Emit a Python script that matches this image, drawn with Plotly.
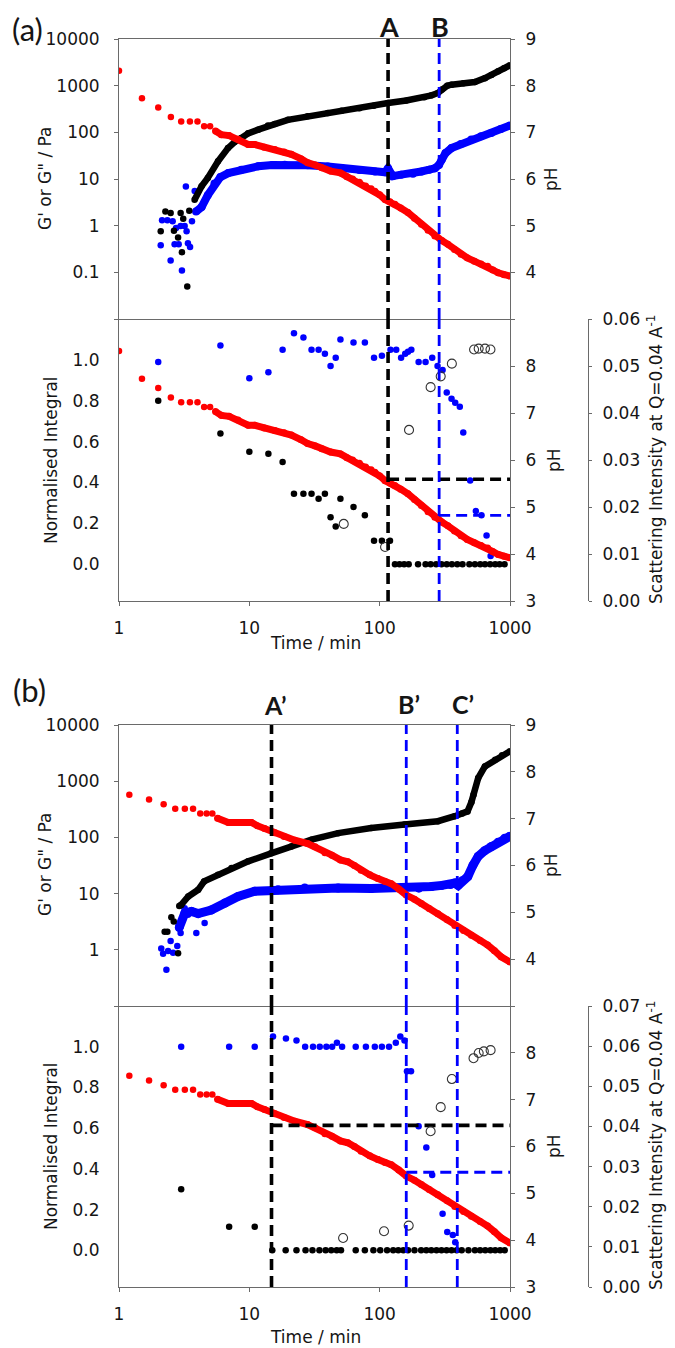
import plotly.graph_objects as go

W, H = 675, 1348

# ---------------- DATA: panel (a) ----------------
# pH (red), shared by upper and lower plots
a_ph_t_sparse = [1.0, 1.5, 2.0, 2.5, 3.0, 3.5, 4.0, 4.5, 5.0]
a_ph_sparse = [8.32, 7.73, 7.53, 7.33, 7.23, 7.23, 7.23, 7.13, 7.13]
a_ph_t = [5.5, 6.1, 7.0, 8.2, 9.8, 11, 13, 15.7, 18.5, 21, 25, 28, 32, 36, 42, 50, 56, 62, 70,
          78, 86, 92, 100, 110, 120, 131, 145, 165, 185, 209, 235, 265, 300, 334, 375, 421, 470,
          533, 600, 674, 740, 812, 900, 1000]
a_ph = [7.03, 6.95, 6.93, 6.85, 6.74, 6.74, 6.68, 6.63, 6.58, 6.53, 6.43, 6.35, 6.30, 6.24, 6.17,
        6.13, 6.05, 6.00, 5.93, 5.85, 5.79, 5.74, 5.66, 5.56, 5.51, 5.46, 5.38, 5.28, 5.16, 5.03,
        4.90, 4.78, 4.68, 4.60, 4.49, 4.39, 4.31, 4.24, 4.18, 4.13, 4.05, 3.99, 3.95, 3.92]

# G' (black)
a_g1_t_sparse = [2.09, 2.27, 2.49, 2.64, 2.84, 2.97, 3.11, 3.04, 3.34, 3.46]
a_g1_sparse = [0.76, 2.0, 1.87, 0.78, 0.56, 1.87, 1.4, 0.27, 0.05, 2.1]
a_g1_t = [3.8, 4.3, 4.8, 5.75, 6.86, 7.7, 8.7, 9.8, 11.7, 13.9, 15.7, 19.8, 28, 40, 51, 70, 90,
          116, 160, 220, 250, 280, 300, 330, 356, 440, 537, 643, 720, 812, 900, 1000]
a_g1 = [3.6, 7, 10.5, 24, 46, 62, 76, 95, 114, 140, 150, 185, 220, 260, 290, 330, 370, 425, 480,
        563, 620, 697, 830, 1000, 1050, 1130, 1200, 1450, 1700, 2030, 2350, 2740]

# G'' (blue)
a_g2_t_sparse = [2.09, 2.14, 2.35, 2.49, 2.58, 2.67, 2.74, 2.87, 2.97, 3.04, 3.19, 3.26, 3.30,
                 3.38, 3.51, 3.63, 3.81]
a_g2_sparse = [0.38, 1.3, 1.3, 0.18, 1.25, 0.4, 0.89, 0.4, 0.98, 0.11, 0.98, 6.9, 0.76, 0.42,
               0.35, 1.25, 5.5]
a_g2_t = [3.9, 4.3, 4.8, 5.4, 6.0, 6.9, 8.7, 11.7, 15, 18.7, 28, 40, 51, 70, 92, 110, 116, 120,
          126, 146, 180, 209, 240, 265, 285, 299, 320, 356, 420, 505, 600, 718, 850, 1000]
a_g2 = [2.0, 2.5, 4.5, 8, 11, 13.4, 15.8, 18.7, 20, 20.3, 19.6, 18.5, 17.3, 15.5, 14.5, 14, 17,
        13, 11.5, 12.4, 13, 14.5, 15.8, 17, 20, 26, 36, 46, 56, 70, 82, 97, 118, 140]

# lower (a): normalised integrals and scattering intensity
a_blue_t = [2.0, 6.0, 10, 14, 18, 22, 26, 30, 34, 38, 42, 46, 50, 63, 77, 90.5, 104, 121, 134,
            146, 157, 165, 175, 199, 225, 253, 278, 304, 327, 356, 380, 412, 438, 495, 547,
            604, 661, 710]
a_blue = [0.99, 1.07, 0.91, 0.94, 1.05, 1.13, 1.11, 1.05, 1.05, 1.03, 0.97, 1.01, 1.10, 1.085,
          1.085, 1.01, 1.02, 1.05, 1.05, 1.01, 1.03, 1.04, 1.05, 0.99, 0.99, 1.01, 0.97, 0.95,
          0.84, 0.81, 0.79, 0.77, 0.645, 0.41, 0.26, 0.24, 0.14, 0.04]
a_black_t = [2.0, 6.0, 10, 14, 18, 22, 26, 30, 34, 38, 42, 46, 50, 63, 77, 90.5, 104, 120, 131,
             142, 154, 167, 197, 225, 246, 271, 298, 327, 358, 394, 432, 488, 538, 591, 643,
             704, 770, 832, 908]
a_black = [0.80, 0.64, 0.55, 0.54, 0.50, 0.345, 0.345, 0.345, 0.32, 0.345, 0.23, 0.185, 0.32,
           0.28, 0.24, 0.115, 0.115, 0.115, 0, 0, 0, 0, 0, 0, 0, 0, 0, 0, 0, 0, 0, 0, 0, 0, 0,
           0, 0, 0, 0]
a_scat_t = [53, 110, 168, 246, 294, 358, 530, 575, 643, 708]
a_scat = [0.0164, 0.0115, 0.0364, 0.0455, 0.0478, 0.0505, 0.0535, 0.0537, 0.0537, 0.0535]

a_marks = {"A": 116, "B": 286}
a_hlines = {"A": 5.59, "B": 4.82}

# ---------------- DATA: panel (b) ----------------
b_ph_t_sparse = [1.2, 1.7, 2.2, 2.7, 3.2, 3.7, 4.2, 4.7, 5.2]
b_ph_sparse = [7.51, 7.41, 7.31, 7.21, 7.21, 7.21, 7.11, 7.11, 7.11]
b_ph_t = [5.7, 6.9, 8, 10.4, 11.5, 13.1, 15.7, 18.5, 22.3, 28, 32, 38, 43, 50, 57, 64, 72, 84,
          97, 110, 123, 140, 160, 185, 209, 240, 280, 330, 377, 440, 505, 590, 674, 760, 855,
          1000]
b_ph = [7.01, 6.92, 6.92, 6.92, 6.85, 6.79, 6.70, 6.62, 6.54, 6.47, 6.40, 6.27, 6.22, 6.12,
        6.08, 6.00, 5.90, 5.80, 5.72, 5.66, 5.61, 5.50, 5.37, 5.28, 5.19, 5.08, 4.97, 4.84,
        4.72, 4.61, 4.51, 4.40, 4.30, 4.18, 4.05, 3.94]

b_g1_t_sparse = [2.24, 2.35, 2.52, 2.63, 2.84]
b_g1_sparse = [2.1, 2.1, 3.8, 3.2, 0.87]
b_g1_t = [2.9, 3.0, 3.4, 4.05, 4.5, 5.75, 7.3, 9.8, 14.7, 21, 30, 48, 86, 155, 280, 377, 430,
          472, 505, 525, 570, 642, 770, 870, 1000]
b_g1 = [6.0, 6.3, 8.9, 11.7, 16.5, 21.7, 28.6, 37.5, 52, 69, 91, 119, 147, 169, 194, 238, 265,
        290, 420, 575, 1140, 1830, 2400, 2900, 3400]

b_g2_t_sparse = [2.11, 2.18, 2.31, 2.38, 2.49, 2.6, 2.8, 2.87, 2.97, 3.19, 3.38, 3.92, 4.54]
b_g2_sparse = [1.05, 0.85, 0.44, 0.95, 1.43, 0.89, 1.17, 2.4, 2.0, 5.5, 4.2, 2.0, 3.0]
b_g2_t = [2.9, 3.2, 3.6, 4.05, 5.1, 6.5, 8.2, 11, 16.6, 26.6, 48, 86, 155, 200, 250, 300, 350,
          377, 400, 430, 474, 520, 570, 640, 718, 810, 910, 1000]
b_g2 = [2.5, 4.5, 4.8, 4.4, 5.1, 6.8, 8.9, 11, 11.7, 12.6, 12.6, 12.3, 12.6, 12.5, 13.4, 14,
        14.5, 15.4, 14, 17, 20, 32, 46, 58, 69, 82, 97, 105]

b_blue_t = [3.0, 7.0, 11.0, 15.2, 19.1, 23, 26.8, 30.8, 34.7, 39, 43.2, 47, 51.5, 65.5, 78.4,
            91.8, 104, 118, 133, 144, 155, 162, 174, 199, 228, 253, 304, 330, 364, 380]
b_blue = [1.0, 1.0, 1.0, 1.05, 1.04, 1.03, 1.0, 1.0, 1.0, 1.0, 1.0, 1.02, 1.0, 1.0, 1.0, 1.0,
          1.0, 1.0, 1.02, 1.05, 1.03, 0.88, 0.88, 0.61, 0.505, 0.37, 0.18, 0.09, 0.075, 0.04]
b_black_t = [3.0, 7.0, 11.0, 15, 19, 23, 27, 30.5, 34.5, 38.5, 42.5, 46.8, 50.5, 65.5, 77,
             89.5, 101, 114, 127, 139, 152, 165, 185, 208, 228, 249, 273, 298, 326, 356, 390,
             426, 480, 538, 590, 646, 708, 770, 840, 910]
b_black = [0.30, 0.116, 0.116, 0, 0, 0, 0, 0, 0, 0, 0, 0, 0, 0, 0, 0, 0, 0, 0, 0, 0, 0, 0, 0,
           0, 0, 0, 0, 0, 0, 0, 0, 0, 0, 0, 0, 0, 0, 0, 0]
b_scat_t = [52.4, 108, 167, 246, 294, 358, 525, 575, 630, 710]
b_scat = [0.0122, 0.0139, 0.0153, 0.0388, 0.0448, 0.0518, 0.057, 0.0583, 0.0587, 0.059]

b_marks = {"A’": 14.8, "B’": 160, "C’": 394}
b_hlines = {"A’": 6.45, "B’": 5.45}

x_ticks = [1, 10, 100, 1000]

# ---------------- STYLE ----------------
FONT = "DejaVu Sans"
LAB = "Lato"
AX = "#6a6a6a"
TXT = "#151515"
RED, BLUE, BLACK = "#ff0000", "#0000ff", "#000000"
MS = 6.5


def py(y):
    return 1 - y / H


def pxx(x):
    return x / W


xdom = [pxx(111), pxx(502)]
dom = {"a_up": [py(311), py(31)], "a_lo": [py(593), py(311)],
       "b_up": [py(998), py(717)], "b_lo": [py(1279), py(998)]}

fig = go.Figure()


def pts(x, y, xa, ya, color, size=MS):
    fig.add_trace(go.Scatter(x=x, y=y, xaxis=xa, yaxis=ya, mode="markers",
                             marker=dict(color=color, size=size, line=dict(width=0)),
                             showlegend=False, hoverinfo="skip"))


def band(x, y, xa, ya, color, width=6.5):
    fig.add_trace(go.Scatter(x=x, y=y, xaxis=xa, yaxis=ya, mode="lines+markers",
                             line=dict(color=color, width=width),
                             marker=dict(color=color, size=width, line=dict(width=0)),
                             showlegend=False, hoverinfo="skip"))


def opens(x, y, xa, ya):
    fig.add_trace(go.Scatter(x=x, y=y, xaxis=xa, yaxis=ya, mode="markers",
                             marker=dict(symbol="circle-open", color="#333333", size=9,
                                         line=dict(width=1.1, color="#333333")),
                             showlegend=False, hoverinfo="skip"))


def dline(x, y, xa, ya, color):
    w = 3.6 if color == BLACK else 2.8
    fig.add_trace(go.Scatter(x=x, y=y, xaxis=xa, yaxis=ya, mode="lines",
                             line=dict(color=color, width=w, dash="11px,6px"),
                             showlegend=False, hoverinfo="skip"))


# ---- panel (a) upper: x / y (G) / y2 (pH)
pts(a_g2_t_sparse, a_g2_sparse, "x", "y", BLUE)
band(a_g2_t, a_g2, "x", "y", BLUE, 8)
pts(a_g1_t_sparse, a_g1_sparse, "x", "y", BLACK)
band(a_g1_t, a_g1, "x", "y", BLACK, 6.5)
pts(a_ph_t_sparse, a_ph_sparse, "x", "y2", RED)
band(a_ph_t, a_ph, "x", "y2", RED, 7)
for k, t in a_marks.items():
    dline([t, t], [3, 9], "x", "y2", BLACK if k == "A" else BLUE)

# ---- panel (a) lower: x2 / y3 (integral) / y4 (pH) / y5 (scattering)
pts(a_blue_t, a_blue, "x2", "y3", BLUE)
pts(a_black_t, a_black, "x2", "y3", BLACK)
pts(a_ph_t_sparse, a_ph_sparse, "x2", "y4", RED)
band(a_ph_t, a_ph, "x2", "y4", RED, 7)
for k, v in a_hlines.items():
    dline([a_marks[k], 1000], [v, v], "x2", "y4", BLACK if k == "A" else BLUE)
opens(a_scat_t, a_scat, "x2", "y5")
for k, t in a_marks.items():
    dline([t, t], [0, 0.06], "x2", "y5", BLACK if k == "A" else BLUE)

# ---- panel (b) upper: x3 / y6 / y7
pts(b_g2_t_sparse, b_g2_sparse, "x3", "y6", BLUE)
band(b_g2_t, b_g2, "x3", "y6", BLUE, 9)
pts(b_g1_t_sparse, b_g1_sparse, "x3", "y6", BLACK)
band(b_g1_t, b_g1, "x3", "y6", BLACK, 6.5)
pts(b_ph_t_sparse, b_ph_sparse, "x3", "y7", RED)
band(b_ph_t, b_ph, "x3", "y7", RED, 7)
for k, t in b_marks.items():
    dline([t, t], [3, 9], "x3", "y7", BLACK if k == "A’" else BLUE)

# ---- panel (b) lower: x4 / y8 / y9 / y10
pts(b_blue_t, b_blue, "x4", "y8", BLUE)
pts(b_black_t, b_black, "x4", "y8", BLACK)
pts(b_ph_t_sparse, b_ph_sparse, "x4", "y9", RED)
band(b_ph_t, b_ph, "x4", "y9", RED, 7)
for k, v in b_hlines.items():
    dline([b_marks[k], 1000], [v, v], "x4", "y9", BLACK if k == "A’" else BLUE)
opens(b_scat_t, b_scat, "x4", "y10")
for k, t in b_marks.items():
    dline([t, t], [0, 0.07], "x4", "y10", BLACK if k == "A’" else BLUE)

# ---------------- AXES ----------------
tf = dict(family=FONT, size=17, color=TXT)
base = dict(showline=True, linecolor=AX, linewidth=1, showgrid=False, zeroline=False,
            automargin=False, tickfont=tf, tickcolor=AX, ticklen=4, tickwidth=1)


def xax(anchor, labels):
    d = dict(base, type="log", range=[0, 3], domain=xdom, anchor=anchor,
             tickvals=x_ticks, ticktext=[str(v) for v in x_ticks])
    if labels:
        d.update(ticks="outside", showticklabels=True, ticklabelstandoff=8)
    else:
        d.update(ticks="", showticklabels=False, mirror=True)
    return d


def gax(domain, anchor, lo):
    vals = [10 ** e for e in range(lo, 5)]
    txt = [" "] + [("%g" % v) if v < 1 else str(int(v)) for v in vals[1:]]
    return dict(base, type="log", range=[lo, 4], domain=domain, anchor=anchor,
                tickvals=vals, ticktext=txt, ticks="outside", ticklabelstandoff=11)


def phax(over, anchor, upper):
    vals = [3, 4, 5, 6, 7, 8, 9]
    txt = ([" "] + [str(v) for v in vals[1:]]) if upper else ([str(v) for v in vals[:-1]] + [" "])
    return dict(base, overlaying=over, anchor=anchor, side="right", range=[3, 9],
                tickvals=vals, ticktext=txt, ticks="outside", ticklabelstandoff=7)


def nax(domain, anchor):
    vals = [0, 0.2, 0.4, 0.6, 0.8, 1.0]
    return dict(base, domain=domain, anchor=anchor, range=[-0.18, 1.2], tickvals=vals,
                ticktext=["%.1f" % v for v in vals], ticks="", ticklabelstandoff=15)


def sax(over, top):
    n = int(round(top * 100))
    vals = [i / 100 for i in range(n + 1)]
    return dict(base, overlaying=over, anchor="free", position=pxx(580), side="right",
                range=[0, top], tickvals=vals, ticktext=["%.2f" % v for v in vals],
                ticks="outside", ticklen=3, ticklabelstandoff=7)


fig.update_layout(
    width=W, height=H, autosize=False, margin=dict(l=0, r=0, t=0, b=0),
    paper_bgcolor="white", plot_bgcolor="rgba(0,0,0,0)", showlegend=False,
    xaxis=xax("y", False), yaxis=gax(dom["a_up"], "x", -2), yaxis2=phax("y", "x", True),
    xaxis2=xax("y3", True), yaxis3=nax(dom["a_lo"], "x2"), yaxis4=phax("y3", "x2", False),
    yaxis5=sax("y3", 0.06),
    xaxis3=xax("y6", False), yaxis6=gax(dom["b_up"], "x3", -1), yaxis7=phax("y6", "x3", True),
    xaxis4=xax("y8", True), yaxis8=nax(dom["b_lo"], "x4"), yaxis9=phax("y8", "x4", False),
    yaxis10=sax("y8", 0.07),
)

# ---------------- TEXT ----------------
ann = []


def txt(s, x, y, size=17, angle=0, family=FONT, bold=False, top=False):
    if bold:
        s = "<b>" + s + "</b>"
    ann.append(dict(text=s, x=pxx(x), y=1.0 if top else py(y), xref="paper", yref="paper",
                    showarrow=False, xanchor="center", yanchor="top" if top else "middle",
                    textangle=angle, font=dict(family=family, size=size, color=TXT)))


scat_title = "Scattering Intensity at Q=0.04 A<sup>-1</sup>"
for (yu, yl, ytime) in [(171, 452, 635), (857, 1138, 1329)]:
    txt("G' or G\" / Pa", 37, yu, angle=-90)
    txt("Normalised Integral", 43, yl, angle=-90)
    txt("pH", 543, yu, angle=-90)
    txt("pH", 546, yl, angle=-90)
    txt(scat_title, 647, yl, angle=-90)
    txt("Time / min", 307, ytime)

txt("(a)", 19, 0, size=31, family=LAB, top=True)
txt("(b)", 21, 682, size=31, family=LAB)
txt("A", 381, 0, size=27, family=LAB, bold=True, top=True)
txt("B", 432, 0, size=27, family=LAB, bold=True, top=True)
txt("A’", 267, 697, size=25, family=LAB, bold=True)
txt("B’", 401, 696, size=25, family=LAB, bold=True)
txt("C’", 455, 696, size=25, family=LAB, bold=True)

fig.update_layout(annotations=ann)
fig.write_html("out.html")
